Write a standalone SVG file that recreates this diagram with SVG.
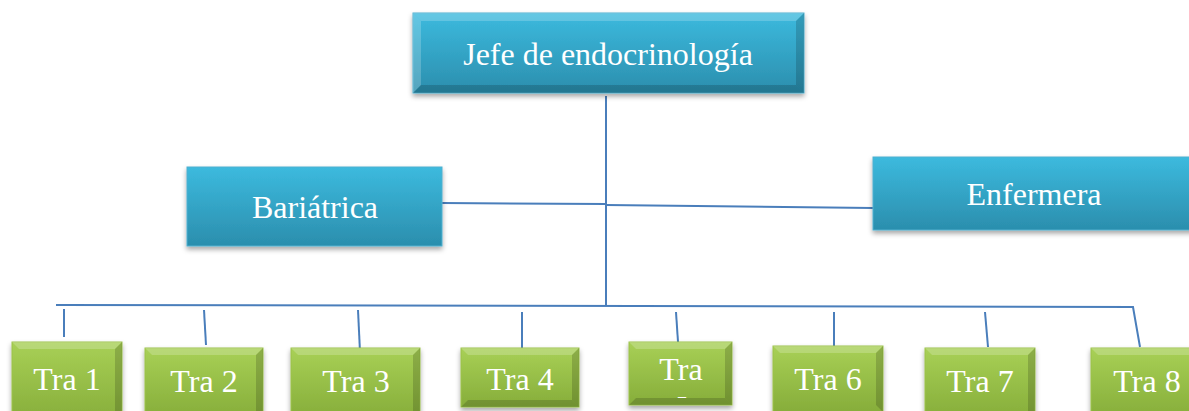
<svg xmlns="http://www.w3.org/2000/svg" width="1189" height="411" viewBox="0 0 1189 411">
<defs>
<linearGradient id="gBlue" x1="0" y1="0" x2="0" y2="1"><stop offset="0" stop-color="#3cbade"/><stop offset="1" stop-color="#2b8ead"/></linearGradient>
<linearGradient id="gGreen" x1="0" y1="0" x2="0" y2="1"><stop offset="0" stop-color="#a8d056"/><stop offset="1" stop-color="#86ad3a"/></linearGradient>
<filter id="sh" x="-10%" y="-10%" width="120%" height="140%"><feDropShadow dx="0" dy="3" stdDeviation="2.5" flood-color="#000" flood-opacity="0.35"/></filter>
<style>
.t{font-family:"Liberation Serif","Times New Roman",serif;fill:#fff;text-anchor:middle;font-size:32px}
.c{stroke:#4a7ebb;stroke-width:2;fill:none}
.lt{fill:#fff;opacity:0.2}
.dk{fill:#000;opacity:0.16}
.b{fill:url(#gBlue);stroke:#4fb0cf;stroke-width:1}
.g{fill:url(#gGreen);stroke:#9bc24a;stroke-width:1}
</style>
</defs>
<g id="connectors">
<path class="c" d="M606 96V305"/>
<path class="c" d="M442 203L606 204"/>
<path class="c" d="M606 205L873 208"/>
<path class="c" d="M56 305L1133 307L1140 347"/>
<path class="c" d="M64 309V337"/>
<path class="c" d="M204 310L206 345"/>
<path class="c" d="M358 310L360 352"/>
<path class="c" d="M522 312V349"/>
<path class="c" d="M676 312L678 342"/>
<path class="c" d="M834 312V346"/>
<path class="c" d="M985 312L988 347"/>
</g>
<g id="jefe">
<rect class="b" x="413" y="13" width="391" height="80" filter="url(#sh)"/>
<polygon class="lt" points="413,13 804,13 796,21 421,21"/>
<polygon class="lt" points="413,13 421,21 421,85 413,93" opacity="0.12"/>
<polygon class="dk" points="413,93 421,85 796,85 804,93"/>
<polygon class="dk" points="804,13 804,93 796,85 796,21" opacity="0.1"/>
<text class="t" x="608" y="65">Jefe de endocrinología</text>
</g>
<g id="bariatrica">
<rect class="b" x="187" y="167" width="255" height="79" filter="url(#sh)"/>
<text class="t" x="315" y="218">Bariátrica</text>
</g>
<g id="enfermera">
<rect class="b" x="873" y="157" width="330" height="73" filter="url(#sh)"/>
<text class="t" x="1034" y="205">Enfermera</text>
</g>
<g id="tra1">
<rect class="g" x="12" y="342" width="110" height="80" filter="url(#sh)"/>
<polygon class="lt" points="12,342 122,342 115,349 19,349"/>
<polygon class="dk" points="122,342 122,422 115,415 115,349" opacity="0.12"/>
<text class="t" x="67" y="390">Tra 1</text>
</g>
<g id="tra2">
<rect class="g" x="145" y="348" width="118" height="70" filter="url(#sh)"/>
<polygon class="lt" points="145,348 263,348 256,355 152,355"/>
<polygon class="dk" points="263,348 263,418 256,411 256,355" opacity="0.12"/>
<text class="t" x="204" y="392">Tra 2</text>
</g>
<g id="tra3">
<rect class="g" x="291" y="348" width="129" height="70" filter="url(#sh)"/>
<polygon class="lt" points="291,348 420,348 413,355 298,355"/>
<polygon class="dk" points="420,348 420,418 413,411 413,355" opacity="0.12"/>
<text class="t" x="356" y="392">Tra 3</text>
</g>
<g id="tra4">
<rect class="g" x="461" y="348" width="118" height="59" filter="url(#sh)"/>
<polygon class="lt" points="461,348 579,348 572,355 468,355"/>
<polygon class="dk" points="461,407 468,400 572,400 579,407"/>
<polygon class="dk" points="579,348 579,407 572,400 572,355" opacity="0.12"/>
<text class="t" x="520" y="390">Tra 4</text>
</g>
<g id="tra5">
<rect class="g" x="629" y="342" width="103" height="63" filter="url(#sh)"/>
<polygon class="lt" points="629,342 732,342 725,349 636,349"/>
<polygon class="dk" points="629,405 636,398 725,398 732,405"/>
<polygon class="dk" points="732,342 732,405 725,398 725,349" opacity="0.12"/>
<text class="t" x="681" y="380">Tra</text>
<text class="t" x="682" y="401" style="font-size:16px">–</text>
</g>
<g id="tra6">
<rect class="g" x="773" y="346" width="110" height="66" filter="url(#sh)"/>
<polygon class="lt" points="773,346 883,346 876,353 780,353"/>
<polygon class="dk" points="883,346 883,412 876,405 876,353" opacity="0.12"/>
<text class="t" x="828" y="390">Tra 6</text>
</g>
<g id="tra7">
<rect class="g" x="925" y="348" width="110" height="70" filter="url(#sh)"/>
<polygon class="lt" points="925,348 1035,348 1028,355 932,355"/>
<polygon class="dk" points="1035,348 1035,418 1028,411 1028,355" opacity="0.12"/>
<text class="t" x="980" y="392">Tra 7</text>
</g>
<g id="tra8">
<rect class="g" x="1091" y="348" width="110" height="70" filter="url(#sh)"/>
<polygon class="lt" points="1091,348 1201,348 1194,355 1098,355"/>
<text class="t" x="1147" y="392">Tra 8</text>
</g>
</svg>
